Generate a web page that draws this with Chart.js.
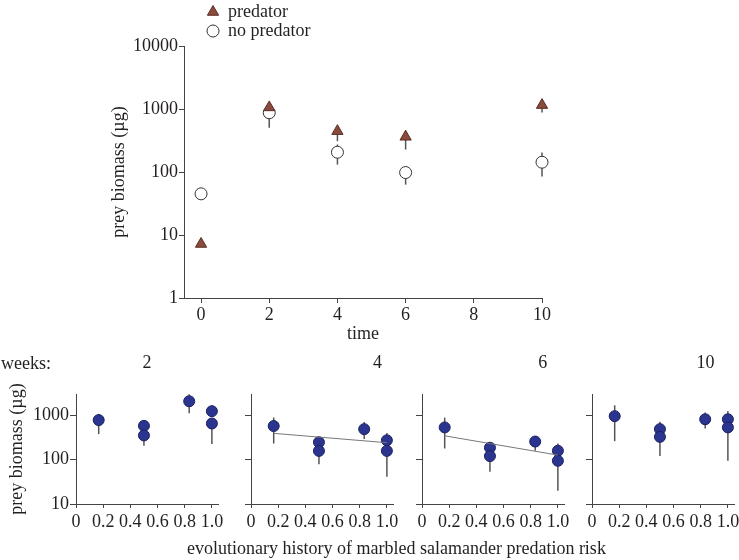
<!DOCTYPE html>
<html>
<head>
<meta charset="utf-8">
<script src="https://cdn.jsdelivr.net/npm/chart.js@4.4.1/dist/chart.umd.min.js"></script>
<style>
  body { margin: 0; background: #fff; }
  #wrap { position: relative; width: 739px; height: 560px; overflow: hidden; font-family: "Liberation Serif", "Times New Roman", serif; color: #231f20; }
  canvas { position: absolute; }
  .lbl { position: absolute; font-size: 18px; line-height: 20px; white-space: nowrap; }
</style>
</head>
<body>
<div id="wrap">
  <canvas id="top" width="739" height="350" style="left:0px;top:0px"></canvas>
  <canvas id="p1" width="232" height="200" style="left:0px;top:340px"></canvas>
  <canvas id="p2" width="166" height="200" style="left:241px;top:340px"></canvas>
  <canvas id="p3" width="166" height="200" style="left:412px;top:340px"></canvas>
  <canvas id="p4" width="166" height="200" style="left:582px;top:340px"></canvas>
  <div class="lbl" style="left:1px;top:353px">weeks:</div>
  <div class="lbl" style="left:187px;top:538px">evolutionary history of marbled salamander predation risk</div>
</div>
<script>
/* ─── Data: top panel ─── */
const times = [0, 2, 4, 6, 10];
const predMean = [7.2, 1060, 445, 362, 1153];
const predHi = [null, null, null, 456, null];
const predLo = [null, null, 308, 227, 883];
const noPredMean = [45, 871, 206, 98, 143];
const noPredHi = [null, null, 273, 123, 204];
const noPredLo = [null, 505, 131, 63, 85];
const timeTicks = [0, 2, 4, 6, 8, 10];
const biomassTicks = [1, 10, 100, 1000, 10000];

/* ─── Data: bottom panels ─── */
const weeks = ["2", "4", "6", "10"];
const riskX = [0.167, 0.5, 0.5, 0.833, 1.0, 1.0];
const wk2 = [775, 575, 350, 2060, 1230, 650];
const wk2Hi = [1070, null, null, 2960, 1670, null];
const wk2Lo = [375, null, 205, 1100, null, 225];
const wk4 = [570, 246, 157, 485, 272, 157];
const wk4Hi = [885, 320, null, 700, 395, null];
const wk4Lo = [230, null, 79, 290, null, 41];
const wk6 = [530, 185, 120, 255, 158, 94];
const wk6Hi = [885, 250, null, 337, 230, null];
const wk6Lo = [178, null, 53, 158, null, 20];
const wk10 = [950, 485, 325, 810, 810, 530];
const wk10Hi = [1670, 710, null, 1150, 1250, null];
const wk10Lo = [260, null, 120, 500, null, 94];
const fitX = [0.167, 1.0];
const wk4Fit = [390, 240];
const wk6Fit = [343, 126];
const riskTicks = [0, 0.2, 0.4, 0.6, 0.8, 1.0];
const panelTicks = [10, 100, 1000];

const FONT = '"Liberation Serif", "Times New Roman", serif';
const INK = "#231f20";
const AXIS = "#444";
const BROWN = "#8a4a3d";
const NAVY = "#2b3590";

const pts = (xs, ys, lo, hi) =>
  ys.map((y, i) => ({ x: xs[i], y: y, lo: lo ? lo[i] : null, hi: hi ? hi[i] : null }));

/* vertical error bars drawn under the markers */
const errorBars = {
  id: "errorBars",
  beforeDatasetsDraw(chart) {
    const { ctx, scales } = chart;
    ctx.save();
    ctx.strokeStyle = "#555";
    ctx.lineWidth = 1.5;
    chart.data.datasets.forEach((ds) => {
      if (ds.type === "line") return;
      ds.data.forEach((p) => {
        const x = scales.x.getPixelForValue(p.x);
        const y = scales.y.getPixelForValue(p.y);
        const top = p.hi != null ? scales.y.getPixelForValue(p.hi) : y;
        const bot = p.lo != null ? scales.y.getPixelForValue(p.lo) : y;
        if (top === bot) return;
        ctx.beginPath();
        ctx.moveTo(x, top);
        ctx.lineTo(x, bot);
        ctx.stroke();
      });
    });
    ctx.restore();
  },
};

/* ─── Top chart ─── */
const topLegend = {
  id: "topLegend",
  afterDraw(chart) {
    const ctx = chart.ctx;
    ctx.save();
    chart.data.datasets.forEach((ds, i) => {
      const y = 12 + i * 19;
      ctx.fillStyle = ds.backgroundColor;
      ctx.strokeStyle = ds.borderColor;
      ctx.lineWidth = 1;
      Chart.helpers.drawPoint(ctx, { pointStyle: ds.pointStyle, radius: ds.pointRadius, rotation: 0, borderWidth: 1 }, 213, y);
      ctx.fillStyle = INK;
      ctx.font = "18px " + FONT;
      ctx.textBaseline = "middle";
      ctx.fillText(ds.label, 228, y);
    });
    ctx.restore();
  },
};

new Chart(document.getElementById("top"), {
  type: "scatter",
  data: {
    datasets: [
      {
        label: "predator",
        data: pts(times, predMean, predLo, predHi),
        pointStyle: "triangle",
        pointRadius: 6.5,
        backgroundColor: BROWN,
        borderColor: "#5a2e25",
        borderWidth: 1,
        clip: false,
      },
      {
        label: "no predator",
        data: pts(times, noPredMean, noPredLo, noPredHi),
        pointStyle: "circle",
        pointRadius: 6,
        backgroundColor: "#ffffff",
        borderColor: "#333",
        borderWidth: 1,
        clip: false,
      },
    ],
  },
  options: {
    responsive: false,
    animation: false,
    layout: { padding: { top: 46, right: 197, left: 0, bottom: 0 } },
    plugins: { legend: { display: false }, tooltip: { enabled: false } },
    scales: {
      x: {
        type: "linear",
        min: -0.5,
        max: 10,
        afterBuildTicks: (s) => { s.ticks = timeTicks.map((v) => ({ value: v })); },
        afterFit: (s) => { s.height = 52; },
        grid: { drawOnChartArea: false, drawTicks: true, tickLength: 5, color: AXIS },
        border: { color: AXIS },
        ticks: { color: INK, font: { family: FONT, size: 18 }, padding: 1, maxRotation: 0 },
        title: { display: true, text: "time", color: INK, font: { family: FONT, size: 18 }, padding: { top: 0, bottom: 5 } },
      },
      y: {
        type: "logarithmic",
        min: 1,
        max: 10000,
        afterBuildTicks: (s) => { s.ticks = biomassTicks.map((v) => ({ value: v })); },
        afterFit: (s) => { s.width = 184; },
        grid: { drawOnChartArea: false, drawTicks: true, tickLength: 5, color: AXIS },
        border: { color: AXIS },
        ticks: { color: INK, font: { family: FONT, size: 18 }, padding: 1, callback: (v) => String(v) },
        title: { display: true, text: "prey biomass (µg)", color: INK, font: { family: FONT, size: 18 }, padding: { top: 108, bottom: 0 } },
      },
    },
  },
  plugins: [errorBars, topLegend],
});

/* ─── Bottom panels ─── */
const panelTitle = {
  id: "panelTitle",
  afterDraw(chart) {
    const o = chart.options.plugins.panelTitle;
    const a = chart.chartArea;
    const ctx = chart.ctx;
    ctx.save();
    ctx.fillStyle = INK;
    ctx.font = "18px " + FONT;
    ctx.textAlign = "center";
    ctx.textBaseline = "middle";
    ctx.fillText(o.text, a.left + o.frac * (a.right - a.left), 23);
    ctx.restore();
  },
};

function panel(id, week, ys, lo, hi, fit, first, frac) {
  const datasets = [
    {
      data: pts(riskX, ys, lo, hi),
      pointStyle: "circle",
      pointRadius: 5.5,
      backgroundColor: NAVY,
      borderColor: "#1b2160",
      borderWidth: 1,
      clip: false,
    },
  ];
  if (fit) {
    datasets.unshift({
      type: "line",
      data: fit.map((y, i) => ({ x: fitX[i], y: y })),
      borderColor: "#777",
      borderWidth: 1,
      pointRadius: 0,
    });
  }
  const yW = first ? 76 : 10;
  return new Chart(document.getElementById(id), {
    type: "scatter",
    data: { datasets },
    options: {
      responsive: false,
      animation: false,
      layout: { padding: { top: 54, right: 14, left: 0, bottom: 0 } },
      plugins: {
        legend: { display: false },
        tooltip: { enabled: false },
        panelTitle: { text: week, frac: frac },
      },
      scales: {
        x: {
          type: "linear",
          min: 0,
          max: 1.045,
          afterBuildTicks: (s) => { s.ticks = riskTicks.map((v) => ({ value: v })); },
          afterFit: (s) => { s.height = 36; },
          grid: { drawOnChartArea: false, drawTicks: true, tickLength: 4, color: AXIS },
          border: { color: AXIS },
          ticks: {
            color: INK,
            font: { family: FONT, size: 18 },
            padding: 3,
            autoSkip: false,
            maxRotation: 0,
            callback: (v) => (v === 0 ? "0" : v.toFixed(1)),
          },
        },
        y: {
          type: "logarithmic",
          min: 10,
          max: 3000,
          afterBuildTicks: (s) => { s.ticks = panelTicks.map((v) => ({ value: v })); },
          afterFit: (s) => { s.width = yW; },
          grid: { drawOnChartArea: false, drawTicks: true, tickLength: 6, color: AXIS },
          border: { color: AXIS },
          ticks: { display: first, color: INK, font: { family: FONT, size: 18 }, padding: 1, callback: (v) => String(v) },
          title: { display: first, text: "prey biomass (µg)", color: INK, font: { family: FONT, size: 18 }, padding: { top: 6, bottom: 0 } },
        },
      },
    },
    plugins: [errorBars, panelTitle],
  });
}

panel("p1", weeks[0], wk2, wk2Lo, wk2Hi, null, true, 0.5);
panel("p2", weeks[1], wk4, wk4Lo, wk4Hi, wk4Fit, false, 0.89);
panel("p3", weeks[2], wk6, wk6Lo, wk6Hi, wk6Fit, false, 0.85);
panel("p4", weeks[3], wk10, wk10Lo, wk10Hi, null, false, 0.8);
</script>
</body>
</html>
